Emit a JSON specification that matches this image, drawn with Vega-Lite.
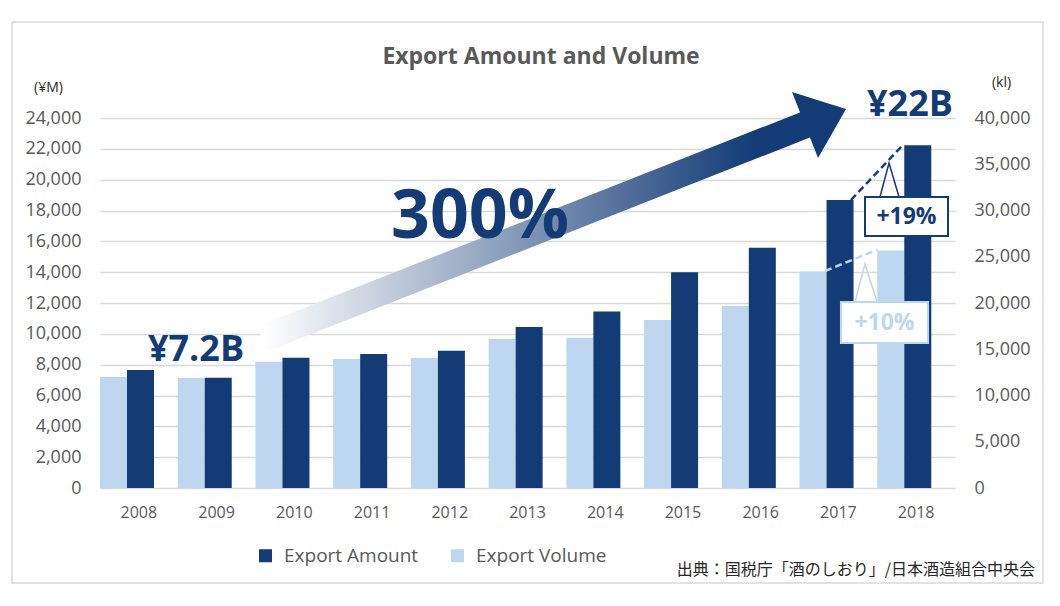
{
  "$schema": "https://vega.github.io/schema/vega-lite/v6.json",
  "width": 855,
  "height": 370,
  "autosize": {"type": "none"},
  "padding": {"left": 100, "top": 118, "right": 105, "bottom": 118},
  "background": "white",
  "config": {
    "view": {"stroke": null},
    "font": "Open Sans",
    "axis": {"labelFont": "Open Sans", "titleFont": "Open Sans"},
    "legend": {"labelFont": "Open Sans"}
  },
  "datasets": {
    "exports": [
      {"year": "2008", "series": "Export Amount", "value": 7650},
      {"year": "2009", "series": "Export Amount", "value": 7150},
      {"year": "2010", "series": "Export Amount", "value": 8450},
      {"year": "2011", "series": "Export Amount", "value": 8700},
      {"year": "2012", "series": "Export Amount", "value": 8900},
      {"year": "2013", "series": "Export Amount", "value": 10450},
      {"year": "2014", "series": "Export Amount", "value": 11450},
      {"year": "2015", "series": "Export Amount", "value": 14000},
      {"year": "2016", "series": "Export Amount", "value": 15580},
      {"year": "2017", "series": "Export Amount", "value": 18680},
      {"year": "2018", "series": "Export Amount", "value": 22230},
      {"year": "2008", "series": "Export Volume", "value": 12000},
      {"year": "2009", "series": "Export Volume", "value": 11880},
      {"year": "2010", "series": "Export Volume", "value": 13650},
      {"year": "2011", "series": "Export Volume", "value": 13950},
      {"year": "2012", "series": "Export Volume", "value": 14060},
      {"year": "2013", "series": "Export Volume", "value": 16120},
      {"year": "2014", "series": "Export Volume", "value": 16230},
      {"year": "2015", "series": "Export Volume", "value": 18150},
      {"year": "2016", "series": "Export Volume", "value": 19680},
      {"year": "2017", "series": "Export Volume", "value": 23400},
      {"year": "2018", "series": "Export Volume", "value": 25680}
    ],
    "frame": [{"yr": 2006.368, "yr2": 2019.632, "amt": 30227, "amt2": -6162}],
    "heading": [{"yr": 2013.174, "amt": 27957, "label": "Export Amount and Volume"}],
    "shaft": [{"yr": 2009.584, "amt": 9665}, {"yr": 2016.634, "amt": 23676}],
    "head": [
      {"yr": 2016.403, "amt": 25687, "amt2": 25687},
      {"yr": 2016.738, "amt": 25155, "amt2": 21405},
      {"yr": 2017.098, "amt": 24584, "amt2": 24584}
    ],
    "bigLabels": [
      {"yr": 2008.735, "amt": 8951, "label": "¥7.2B"},
      {"yr": 2017.921, "amt": 24843, "label": "¥22B"}
    ],
    "growth": [{"yr": 2012.389, "amt": 17514, "label": "300%"}],
    "dashAmount": [{"yr": 2017.162, "amt": 18681}, {"yr": 2017.818, "amt": 22184}],
    "dashVolume": [{"yr": 2016.828, "amt": 14076}, {"yr": 2017.497, "amt": 15448}],
    "box19": [{"yr": 2017.342, "yr2": 2018.41, "amt": 18876, "amt2": 16346, "label": "+19%", "tx": 2017.876, "ty": 17578}],
    "ptr19": [{"yr": 2017.535, "amt": 18876}, {"yr": 2017.651, "amt": 21081}, {"yr": 2017.78, "amt": 18876}],
    "box10": [{"yr": 2017.033, "yr2": 2018.153, "amt": 12065, "amt2": 9405, "label": "+10%", "tx": 2017.593, "ty": 10703}],
    "ptr10": [{"yr": 2017.213, "amt": 12065}, {"yr": 2017.342, "amt": 14530}, {"yr": 2017.497, "amt": 12065}],
    "source": [{"yr": 2019.529, "amt": -5319, "label": "出典：国税庁「酒のしおり」/日本酒造組合中央会"}]
  },
  "layer": [
    {
      "data": {"name": "frame"},
      "mark": {"type": "rect", "fillOpacity": 0, "stroke": "#d9d9d9", "strokeWidth": 1.5},
      "encoding": {
        "x": {"field": "yr", "type": "quantitative", "scale": {"domain": [2007.5, 2018.5], "nice": false, "zero": false}, "axis": null},
        "x2": {"field": "yr2"},
        "y": {"field": "amt", "type": "quantitative", "scale": {"domain": [0, 24000], "nice": false, "zero": false}, "axis": null},
        "y2": {"field": "amt2"}
      }
    },
    {
      "data": {"name": "heading"},
      "mark": {"type": "text", "font": "Open Sans", "fontWeight": "bold", "fontSize": 23, "color": "#595959", "align": "center", "baseline": "middle"},
      "encoding": {
        "x": {"field": "yr", "type": "quantitative", "scale": {"domain": [2007.5, 2018.5], "nice": false, "zero": false}, "axis": null},
        "y": {"field": "amt", "type": "quantitative", "scale": {"domain": [0, 24000], "nice": false, "zero": false}, "axis": null},
        "text": {"field": "label"}
      }
    },
    {
      "data": {"name": "exports"},
      "transform": [{"filter": "datum.series === 'Export Volume'"}],
      "mark": {"type": "bar"},
      "encoding": {
        "x": {"field": "year", "type": "ordinal", "scale": {"paddingInner": 0, "paddingOuter": 0}, "axis": null},
        "xOffset": {"field": "series", "scale": {"domain": ["Export Volume", "Export Amount"], "range": [0, 54], "paddingInner": 0, "paddingOuter": 0}},
        "y": {
          "field": "value", "type": "quantitative",
          "scale": {"domain": [0, 40000], "nice": false},
          "axis": {
            "orient": "right", "title": "(kl)", "values": [0, 5000, 10000, 15000, 20000, 25000, 30000, 35000, 40000],
            "format": ",.0f", "grid": false, "domain": false, "ticks": false,
            "labelPadding": 19, "labelFontSize": 18, "labelColor": "#595959",
            "titleAngle": 0, "titleX": 46, "titleY": -36, "titleAlign": "center", "titleBaseline": "middle",
            "titleFontSize": 14, "titleFontWeight": "normal", "titleColor": "#262626"
          }
        },
        "color": {
          "field": "series", "type": "nominal",
          "scale": {"domain": ["Export Amount", "Export Volume"], "range": ["#133b76", "#bcd7ef"]},
          "legend": {
            "orient": "none", "legendX": 156, "legendY": 428, "direction": "horizontal", "title": null,
            "symbolType": "square", "symbolSize": 170, "symbolStrokeWidth": 0,
            "labelFontSize": 19, "labelColor": "#595959", "columnPadding": 29, "labelOffset": 9
          }
        }
      }
    },
    {
      "data": {"name": "exports"},
      "transform": [{"filter": "datum.series === 'Export Amount'"}],
      "mark": {"type": "bar"},
      "encoding": {
        "x": {
          "field": "year", "type": "ordinal", "scale": {"paddingInner": 0, "paddingOuter": 0},
          "axis": {"title": null, "labelAngle": 0, "domain": false, "ticks": false, "labelPadding": 16, "labelFontSize": 16, "labelColor": "#595959"}
        },
        "xOffset": {"field": "series", "scale": {"domain": ["Export Volume", "Export Amount"], "range": [0, 54], "paddingInner": 0, "paddingOuter": 0}},
        "y": {
          "field": "value", "type": "quantitative",
          "scale": {"domain": [0, 24000], "nice": false},
          "axis": {
            "orient": "left", "title": "(¥M)", "values": [0, 2000, 4000, 6000, 8000, 10000, 12000, 14000, 16000, 18000, 20000, 22000, 24000],
            "format": ",.0f", "grid": true, "gridColor": "#d9d9d9", "gridWidth": 1.3, "domain": false, "ticks": false,
            "labelPadding": 19, "labelFontSize": 18, "labelColor": "#595959",
            "titleAngle": 0, "titleX": -52, "titleY": -31, "titleAlign": "center", "titleBaseline": "middle",
            "titleFontSize": 14, "titleFontWeight": "normal", "titleColor": "#262626"
          }
        },
        "color": {"field": "series", "type": "nominal", "scale": {"domain": ["Export Amount", "Export Volume"], "range": ["#133b76", "#bcd7ef"]}}
      }
    },
    {
      "data": {"name": "shaft"},
      "mark": {
        "type": "line", "strokeWidth": 27, "strokeCap": "butt",
        "stroke": {"gradient": "linear", "stops": [{"offset": 0, "color": "#ffffff"}, {"offset": 0.9, "color": "#133b76"}, {"offset": 1, "color": "#133b76"}]}
      },
      "encoding": {
        "x": {"field": "yr", "type": "quantitative", "scale": {"domain": [2007.5, 2018.5], "nice": false, "zero": false}, "axis": null},
        "y": {"field": "amt", "type": "quantitative", "scale": {"domain": [0, 24000], "nice": false, "zero": false}, "axis": null}
      }
    },
    {
      "data": {"name": "head"},
      "mark": {"type": "area", "color": "#133b76"},
      "encoding": {
        "x": {"field": "yr", "type": "quantitative", "scale": {"domain": [2007.5, 2018.5], "nice": false, "zero": false}, "axis": null},
        "y": {"field": "amt", "type": "quantitative", "scale": {"domain": [0, 24000], "nice": false, "zero": false}, "axis": null},
        "y2": {"field": "amt2"}
      }
    },
    {
      "data": {"name": "bigLabels"},
      "mark": {"type": "text", "font": "Open Sans", "fontWeight": "bold", "fontSize": 36, "color": "#133b76", "align": "center", "baseline": "middle"},
      "encoding": {
        "x": {"field": "yr", "type": "quantitative", "scale": {"domain": [2007.5, 2018.5], "nice": false, "zero": false}, "axis": null},
        "y": {"field": "amt", "type": "quantitative", "scale": {"domain": [0, 24000], "nice": false, "zero": false}, "axis": null},
        "text": {"field": "label"}
      }
    },
    {
      "data": {"name": "growth"},
      "mark": {"type": "text", "font": "Open Sans", "fontWeight": "bold", "fontSize": 68, "color": "#133b76", "align": "center", "baseline": "middle"},
      "encoding": {
        "x": {"field": "yr", "type": "quantitative", "scale": {"domain": [2007.5, 2018.5], "nice": false, "zero": false}, "axis": null},
        "y": {"field": "amt", "type": "quantitative", "scale": {"domain": [0, 24000], "nice": false, "zero": false}, "axis": null},
        "text": {"field": "label"}
      }
    },
    {
      "data": {"name": "dashAmount"},
      "mark": {"type": "line", "color": "#133b76", "strokeWidth": 2.5, "strokeDash": [7, 4]},
      "encoding": {
        "x": {"field": "yr", "type": "quantitative", "scale": {"domain": [2007.5, 2018.5], "nice": false, "zero": false}, "axis": null},
        "y": {"field": "amt", "type": "quantitative", "scale": {"domain": [0, 24000], "nice": false, "zero": false}, "axis": null}
      }
    },
    {
      "data": {"name": "dashVolume"},
      "mark": {"type": "line", "color": "#bcd7ef", "strokeWidth": 2.5, "strokeDash": [7, 4]},
      "encoding": {
        "x": {"field": "yr", "type": "quantitative", "scale": {"domain": [2007.5, 2018.5], "nice": false, "zero": false}, "axis": null},
        "y": {"field": "amt", "type": "quantitative", "scale": {"domain": [0, 24000], "nice": false, "zero": false}, "axis": null}
      }
    },
    {
      "data": {"name": "box19"},
      "mark": {"type": "rect", "fill": "white", "stroke": "#133b76", "strokeWidth": 2},
      "encoding": {
        "x": {"field": "yr", "type": "quantitative", "scale": {"domain": [2007.5, 2018.5], "nice": false, "zero": false}, "axis": null},
        "x2": {"field": "yr2"},
        "y": {"field": "amt", "type": "quantitative", "scale": {"domain": [0, 24000], "nice": false, "zero": false}, "axis": null},
        "y2": {"field": "amt2"}
      }
    },
    {
      "data": {"name": "ptr19"},
      "mark": {"type": "line", "color": "#133b76", "strokeWidth": 1.5},
      "encoding": {
        "x": {"field": "yr", "type": "quantitative", "scale": {"domain": [2007.5, 2018.5], "nice": false, "zero": false}, "axis": null},
        "y": {"field": "amt", "type": "quantitative", "scale": {"domain": [0, 24000], "nice": false, "zero": false}, "axis": null}
      }
    },
    {
      "data": {"name": "box19"},
      "mark": {"type": "text", "font": "Open Sans", "fontWeight": "bold", "fontSize": 23, "color": "#133b76", "align": "center", "baseline": "middle"},
      "encoding": {
        "x": {"field": "tx", "type": "quantitative", "scale": {"domain": [2007.5, 2018.5], "nice": false, "zero": false}, "axis": null},
        "y": {"field": "ty", "type": "quantitative", "scale": {"domain": [0, 24000], "nice": false, "zero": false}, "axis": null},
        "text": {"field": "label"}
      }
    },
    {
      "data": {"name": "box10"},
      "mark": {"type": "rect", "fill": "white", "stroke": "#bcd7ef", "strokeWidth": 2},
      "encoding": {
        "x": {"field": "yr", "type": "quantitative", "scale": {"domain": [2007.5, 2018.5], "nice": false, "zero": false}, "axis": null},
        "x2": {"field": "yr2"},
        "y": {"field": "amt", "type": "quantitative", "scale": {"domain": [0, 24000], "nice": false, "zero": false}, "axis": null},
        "y2": {"field": "amt2"}
      }
    },
    {
      "data": {"name": "ptr10"},
      "mark": {"type": "line", "color": "#bcd7ef", "strokeWidth": 1.5},
      "encoding": {
        "x": {"field": "yr", "type": "quantitative", "scale": {"domain": [2007.5, 2018.5], "nice": false, "zero": false}, "axis": null},
        "y": {"field": "amt", "type": "quantitative", "scale": {"domain": [0, 24000], "nice": false, "zero": false}, "axis": null}
      }
    },
    {
      "data": {"name": "box10"},
      "mark": {"type": "text", "font": "Open Sans", "fontWeight": "bold", "fontSize": 23, "color": "#bcd7ef", "align": "center", "baseline": "middle"},
      "encoding": {
        "x": {"field": "tx", "type": "quantitative", "scale": {"domain": [2007.5, 2018.5], "nice": false, "zero": false}, "axis": null},
        "y": {"field": "ty", "type": "quantitative", "scale": {"domain": [0, 24000], "nice": false, "zero": false}, "axis": null},
        "text": {"field": "label"}
      }
    },
    {
      "data": {"name": "source"},
      "mark": {"type": "text", "font": "Noto Sans CJK JP", "fontSize": 16, "color": "#262626", "align": "right", "baseline": "middle"},
      "encoding": {
        "x": {"field": "yr", "type": "quantitative", "scale": {"domain": [2007.5, 2018.5], "nice": false, "zero": false}, "axis": null},
        "y": {"field": "amt", "type": "quantitative", "scale": {"domain": [0, 24000], "nice": false, "zero": false}, "axis": null},
        "text": {"field": "label"}
      }
    }
  ],
  "resolve": {"scale": {"x": "independent", "y": "independent", "xOffset": "independent"}}
}
